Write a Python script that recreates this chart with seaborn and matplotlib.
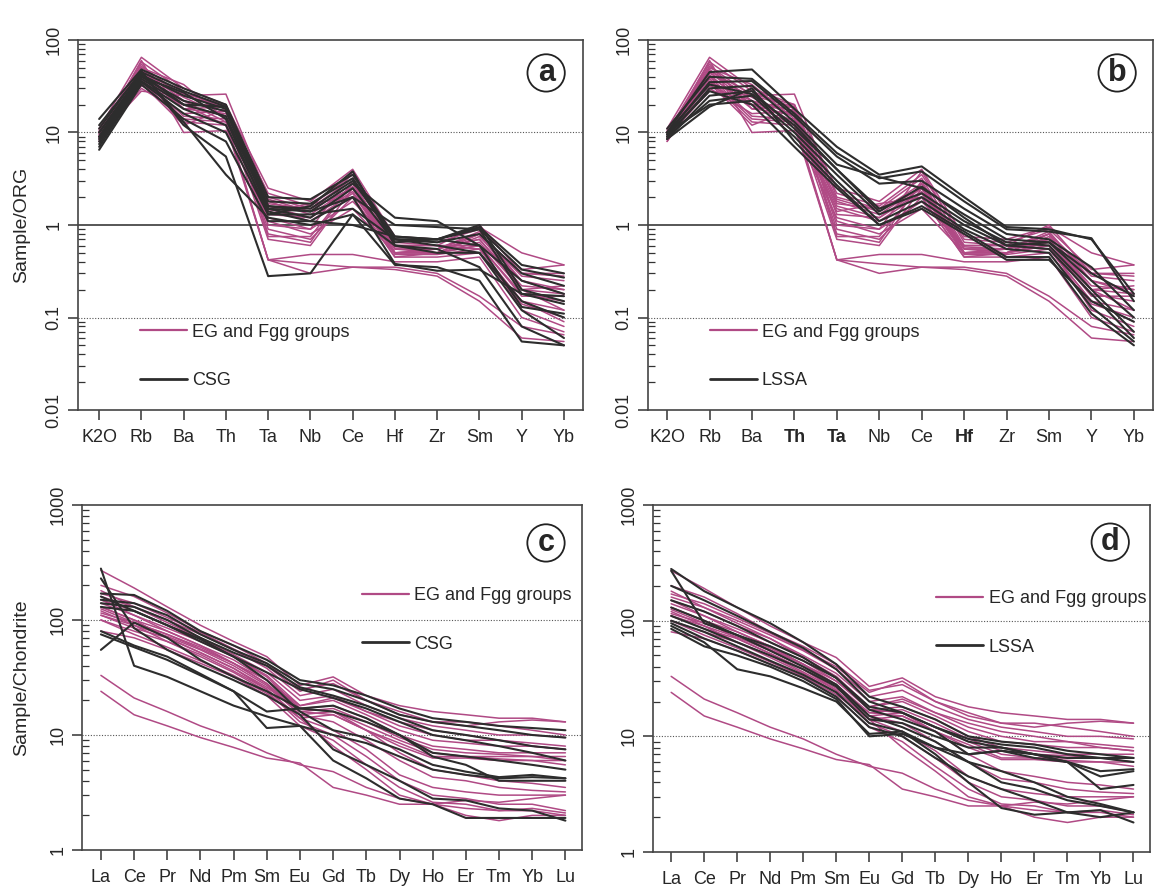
import numpy as np
import pandas as pd
import matplotlib
matplotlib.use("Agg")
import matplotlib.pyplot as plt
from matplotlib.lines import Line2D
import seaborn as sns

# ---------------- data ----------------
spider_elems = ["K2O", "Rb", "Ba", "Th", "Ta", "Nb", "Ce", "Hf", "Zr", "Sm", "Y", "Yb"]
ree_elems = ["La", "Ce", "Pr", "Nd", "Pm", "Sm", "Eu", "Gd", "Tb", "Dy", "Ho", "Er", "Tm", "Yb", "Lu"]

# EG and Fgg groups, normalised to ORG
eg_org = [
    [11, 65, 30, 20, 2.5, 1.8, 4.0, 0.75, 0.70, 0.95, 0.50, 0.37],
    [10, 58, 28, 18, 2.2, 1.6, 3.5, 0.70, 0.65, 0.90, 0.33, 0.37],
    [9.5, 52, 25, 26, 2.0, 1.5, 3.2, 0.60, 0.60, 1.00, 0.30, 0.30],
    [10.5, 48, 22, 17, 1.9, 1.4, 2.8, 0.58, 0.55, 0.80, 0.28, 0.25],
    [9, 45, 20, 15, 1.8, 1.3, 2.6, 0.55, 0.55, 0.70, 0.22, 0.20],
    [8.5, 42, 18, 16, 1.7, 1.5, 2.5, 0.50, 0.50, 0.65, 0.20, 0.18],
    [10, 40, 15, 14, 1.6, 1.2, 2.3, 0.50, 0.50, 0.60, 0.18, 0.15],
    [9, 38, 14, 13, 1.5, 1.1, 2.2, 0.48, 0.48, 0.55, 0.15, 0.12],
    [8, 36, 13, 12, 1.4, 1.7, 2.0, 0.45, 0.45, 0.50, 0.14, 0.10],
    [11, 34, 12, 18, 1.3, 1.2, 2.5, 0.55, 0.50, 0.75, 0.25, 0.20],
    [9, 60, 10, 10.5, 1.2, 0.9, 1.8, 0.60, 0.60, 0.60, 0.12, 0.08],
    [10, 32, 20, 20, 1.1, 0.8, 1.5, 0.50, 0.55, 0.70, 0.20, 0.22],
    [8.5, 30, 16, 17, 0.9, 0.7, 2.0, 0.45, 0.50, 0.60, 0.17, 0.17],
    [9.5, 55, 18, 19, 0.8, 0.65, 3.0, 0.50, 0.50, 0.80, 0.30, 0.28],
    [10, 44, 24, 15, 0.7, 0.6, 2.5, 0.50, 0.55, 0.85, 0.25, 0.18],
    [9, 28, 25, 19, 0.75, 0.75, 2.8, 0.55, 0.55, 0.80, 0.20, 0.12],
    [8, 50, 33, 14, 0.42, 0.48, 0.48, 0.40, 0.40, 0.45, 0.10, 0.07],
    [10, 40, 20, 12, 0.42, 0.38, 0.35, 0.35, 0.30, 0.17, 0.08, 0.065],
    [9, 35, 22, 13, 0.42, 0.30, 0.35, 0.33, 0.28, 0.15, 0.06, 0.055],
    [10, 46, 26, 20, 1.0, 0.9, 3.8, 0.65, 0.60, 0.55, 0.15, 0.09],
]

# CSG, normalised to ORG
csg_org = [
    [14, 48, 30, 20, 2.0, 1.9, 3.5, 0.75, 0.70, 0.95, 0.37, 0.30],
    [12, 45, 28, 19, 1.8, 1.7, 3.2, 0.70, 0.70, 0.90, 0.33, 0.27],
    [10, 42, 25, 18, 1.6, 1.5, 3.0, 0.70, 0.65, 0.80, 0.30, 0.22],
    [9, 40, 22, 17, 1.5, 1.4, 2.8, 1.20, 1.10, 0.60, 0.25, 0.18],
    [8, 38, 20, 15, 1.5, 1.2, 2.5, 0.65, 0.70, 1.00, 0.20, 0.15],
    [7.5, 36, 18, 12, 1.4, 1.1, 2.0, 1.00, 0.95, 0.90, 0.18, 0.17],
    [7, 35, 16, 10, 1.3, 1.3, 1.5, 0.70, 0.60, 0.50, 0.15, 0.10],
    [6.5, 33, 14, 8, 1.1, 1.1, 1.0, 0.75, 0.70, 0.60, 0.13, 0.11],
    [9, 44, 13, 3.5, 1.2, 1.0, 1.3, 0.60, 0.55, 0.35, 0.08, 0.05],
    [11, 46, 12, 5.5, 0.28, 0.30, 1.3, 0.37, 0.35, 0.25, 0.055, 0.05],
    [8.5, 40, 27, 14, 1.3, 1.6, 3.8, 0.60, 0.50, 0.50, 0.12, 0.06],
    [10, 43, 20, 19, 1.6, 1.4, 2.0, 0.38, 0.32, 0.33, 0.18, 0.14],
]

# LSSA, normalised to ORG
lssa_org = [
    [10, 45, 48, 18, 7.0, 3.5, 4.3, 2.0, 0.95, 0.90, 0.70, 0.18],
    [11, 40, 38, 16, 6.0, 3.2, 3.8, 1.8, 0.90, 0.85, 0.72, 0.15],
    [9.5, 35, 36, 15, 5.5, 2.8, 3.0, 1.5, 0.80, 0.70, 0.35, 0.12],
    [9, 30, 32, 13, 4.5, 3.3, 2.5, 1.3, 0.70, 0.65, 0.25, 0.10],
    [8.5, 25, 28, 11, 4.0, 1.5, 2.2, 1.1, 0.65, 0.60, 0.20, 0.07],
    [9, 22, 25, 10, 3.5, 1.3, 2.0, 1.0, 0.60, 0.55, 0.18, 0.06],
    [10, 20, 22, 9, 3.0, 1.1, 1.8, 0.9, 0.55, 0.50, 0.13, 0.055],
    [8.5, 19, 30, 8, 2.7, 1.0, 1.6, 0.85, 0.45, 0.45, 0.11, 0.05],
    [9.5, 28, 20, 7, 2.5, 1.0, 1.5, 0.8, 0.42, 0.42, 0.15, 0.09],
    [10, 33, 26, 12, 4.0, 1.4, 2.6, 1.2, 0.60, 0.65, 0.30, 0.17],
]

# EG and Fgg groups, chondrite-normalised REE
eg_ree = [
    [270, 190, 130, 90, 65, 48, 27, 32, 22, 18, 16, 15, 14, 14, 13],
    [200, 160, 115, 80, 60, 42, 25, 28, 20, 16, 13, 12, 13, 13.5, 13],
    [160, 130, 100, 75, 55, 38, 22, 25, 18, 14, 12, 11, 10, 10, 9.5],
    [150, 120, 90, 70, 50, 35, 20, 22, 16, 12, 10, 9, 9, 8.5, 8],
    [140, 110, 85, 65, 48, 33, 18, 20, 15, 11, 9, 8.5, 8, 8, 7.5],
    [130, 100, 80, 60, 45, 30, 17, 18, 14, 10, 8, 7.5, 7, 7, 7],
    [125, 95, 75, 58, 42, 28, 16, 17, 13, 9.5, 7.5, 7, 6.8, 6.5, 6.5],
    [120, 90, 72, 55, 40, 27, 15, 16, 12, 9, 7, 6.5, 6.5, 6.5, 6],
    [110, 85, 70, 52, 38, 26, 16, 15, 11, 8.5, 6.5, 6.5, 6.2, 6, 6],
    [100, 80, 65, 50, 36, 25, 14, 15, 11, 8, 6.3, 6.3, 6, 6, 5.5],
    [180, 130, 95, 70, 48, 32, 17, 16, 11, 7, 5, 4.5, 4.0, 3.8, 3.5],
    [150, 110, 80, 60, 42, 28, 15, 13, 9, 6, 4.3, 4, 3.5, 3.3, 3.2],
    [130, 100, 70, 52, 38, 25, 14, 11, 7.5, 4.5, 3.5, 3.2, 3, 3, 3.0],
    [110, 90, 65, 48, 35, 24, 13, 10, 6.5, 4, 3, 2.8, 2.5, 2.5, 2.2],
    [80, 70, 55, 42, 32, 22, 12, 9, 5.5, 3.5, 2.6, 2.5, 2.2, 2.3, 2.1],
    [100, 75, 58, 44, 33, 23, 14, 8, 5, 3, 2.5, 2, 1.8, 2.0, 2.0],
    [33, 21, 16, 12, 9.5, 7, 5.5, 4.8, 3.5, 2.8, 2.5, 2.7, 2.6, 2.8, 3.0],
    [24, 15, 12, 9.5, 7.8, 6.3, 5.7, 3.5, 3.0, 2.5, 2.5, 2.3, 2.2, 2.2, 2.0],
    [170, 140, 105, 78, 56, 40, 24, 30, 20, 15, 13, 13, 12, 11, 10],
    [115, 95, 75, 56, 42, 30, 18, 21, 16, 13, 11, 10, 9, 8, 7.5],
]

# CSG, chondrite-normalised REE
csg_ree = [
    [170, 165, 120, 80, 60, 45, 30, 27, 22, 17, 14, 13, 12, 11.5, 11],
    [150, 140, 110, 75, 55, 42, 28, 25, 20, 15, 13, 12, 11, 10, 9.5],
    [140, 130, 100, 70, 52, 40, 26, 22, 18, 14, 11, 10, 9, 8, 7.5],
    [130, 120, 90, 65, 48, 35, 25, 21, 17, 13, 10, 9, 8, 7, 6],
    [280, 40, 32, 24, 18, 14.5, 12, 10, 8.5, 6.5, 5, 4.5, 4.2, 4.3, 4.2],
    [55, 95, 70, 45, 32, 24, 17, 16, 13, 10, 7, 6.5, 6, 5.5, 5],
    [80, 60, 48, 34, 24, 16, 17, 18, 14, 10, 6.5, 5.5, 4.0, 4.0, 4.0],
    [230, 85, 55, 40, 30, 22, 15, 7.5, 5.5, 4.0, 2.8, 2.7, 2.3, 2.2, 1.8],
    [75, 58, 45, 33, 24, 11.5, 12, 6, 4.2, 2.8, 2.5, 1.9, 1.9, 1.9, 1.9],
    [160, 120, 90, 68, 48, 30, 16, 11, 9.5, 7.5, 5.5, 4.8, 4.3, 4.5, 4.2],
]

# LSSA, chondrite-normalised REE
lssa_ree = [
    [280, 180, 130, 95, 65, 42, 22, 18, 14, 10, 9, 8.5, 7.5, 7, 6.5],
    [270, 95, 75, 60, 45, 32, 18, 16, 12, 9.5, 8.5, 8, 7, 6.5, 6],
    [200, 150, 110, 80, 58, 38, 20, 16, 12, 9, 8, 7, 6.5, 6.5, 6.5],
    [150, 120, 90, 65, 48, 32, 17, 14, 11, 7, 7.5, 7, 6, 5, 5.2],
    [130, 100, 75, 55, 40, 28, 15, 12, 9, 6, 4, 3.5, 2.8, 2.5, 2.2],
    [100, 80, 60, 45, 34, 24, 13, 11, 7, 4, 2.4, 2.1, 2.2, 2.3, 1.8],
    [95, 70, 55, 42, 32, 22, 12, 10, 6.5, 4.5, 3.5, 2.8, 2.2, 2.0, 2.2],
    [90, 65, 38, 33, 26, 20, 10.5, 11, 8, 7, 7.5, 6.5, 6, 3.5, 3.8],
    [85, 60, 50, 40, 30, 21, 10, 10.5, 8, 6, 5, 4, 3, 2.6, 2.2],
    [110, 85, 65, 50, 38, 27, 14, 13, 10, 8, 8, 7, 6, 4.5, 5],
]

PINK = "#b04a85"
DARK = "#2d2d2d"


def long_df(rows, elems, group):
    recs = []
    for i, r in enumerate(rows):
        for j, v in enumerate(r):
            recs.append({"sample": f"{group}{i}", "pos": j, "elem": elems[j],
                         "value": v, "group": group})
    return pd.DataFrame(recs)


sns.set_theme(style="ticks")
plt.rcParams["font.family"] = ["Liberation Sans", "DejaVu Sans"]

fig = plt.figure(figsize=(11.6, 8.88), dpi=100)
W, H = 1160, 888


def add_ax(left, right, top, bottom):
    return fig.add_axes([left / W, 1 - bottom / H, (right - left) / W, (bottom - top) / H])


ax_a = add_ax(78, 583, 40, 410)
ax_b = add_ax(648, 1153, 40, 410)
ax_c = add_ax(82, 582, 505, 850)
ax_d = add_ax(653, 1150, 505, 852)

panels = [
    (ax_a, eg_org, csg_org, "CSG", spider_elems, "a", (-0.5, 11.45), (0.01, 100)),
    (ax_b, eg_org, lssa_org, "LSSA", spider_elems, "b", (-0.45, 11.45), (0.01, 100)),
    (ax_c, eg_ree, csg_ree, "CSG", ree_elems, "c", (-0.57, 14.5), (1, 1000)),
    (ax_d, eg_ree, lssa_ree, "LSSA", ree_elems, "d", (-0.55, 14.5), (1, 1000)),
]

legend_pos = {"a": (0.122, 0.233), "b": (0.122, 0.233), "c": (0.56, 0.762), "d": (0.57, 0.755)}
circle_pos = {"a": (0.927, 0.911), "b": (0.929, 0.911), "c": (0.928, 0.89), "d": (0.92, 0.893)}

for ax, pink_rows, dark_rows, dark_name, elems, letter, xlim, ylim in panels:
    df = pd.concat([long_df(pink_rows, elems, "EG and Fgg groups"),
                    long_df(dark_rows, elems, dark_name)], ignore_index=True)
    ax.set_yscale("log")
    # reference lines
    if ylim[1] == 100:
        ax.axhline(1, color="#3a3a3a", lw=1.2, zorder=1)
        for yv in (10, 0.1):
            ax.axhline(yv, color="#555555", lw=0.8, ls=(0, (1, 1.5)), zorder=1)
    else:
        for yv in (100, 10):
            ax.axhline(yv, color="#555555", lw=0.8, ls=(0, (1, 1.5)), zorder=1)
    sns.lineplot(data=df[df.group == "EG and Fgg groups"], x="pos", y="value",
                 units="sample", estimator=None, color=PINK, lw=1.1, ax=ax,
                 legend=False, zorder=2)
    sns.lineplot(data=df[df.group == dark_name], x="pos", y="value",
                 units="sample", estimator=None, color=DARK, lw=1.5, ax=ax,
                 legend=False, zorder=3)
    ax.set_xlim(*xlim)
    ax.set_ylim(*ylim)
    ax.set_xticks(range(len(elems)))
    ax.set_xticklabels(elems, fontsize=13)
    ax.set_xlabel("")
    ax.set_ylabel("")
    # y ticks
    majors = [10.0 ** k for k in range(int(np.log10(ylim[0])), int(np.log10(ylim[1])) + 1)]
    ax.set_yticks(majors)
    ax.set_yticklabels([f"{m:g}" for m in majors], fontsize=13, rotation=90, va="center")
    ax.yaxis.set_minor_locator(matplotlib.ticker.LogLocator(base=10, subs=np.arange(2, 10)))
    ax.yaxis.set_minor_formatter(matplotlib.ticker.NullFormatter())
    ax.tick_params(axis="both", which="major", direction="out", length=7, width=1.1,
                   color="#333333", pad=4)
    ax.tick_params(axis="x", which="major", pad=7)
    ax.tick_params(axis="y", which="minor", direction="in", length=5, width=0.9,
                   color="#333333")
    for sp in ax.spines.values():
        sp.set_visible(True)
        sp.set_linewidth(1.2)
        sp.set_color("#444444")
    # legend
    handles = [Line2D([], [], color=PINK, lw=1.6), Line2D([], [], color=DARK, lw=2.0)]
    ax.legend(handles, ["EG and Fgg groups", dark_name], loc="upper left",
              bbox_to_anchor=legend_pos[letter], frameon=False, fontsize=13,
              handlelength=2.6, handletextpad=0.3, labelspacing=1.75,
              borderpad=0, borderaxespad=0)
    # circled panel letter
    cx, cy = circle_pos[letter]
    ax.text(cx, cy, letter, transform=ax.transAxes, fontsize=22, fontweight="bold",
            ha="center", va="center",
            bbox=dict(boxstyle="circle,pad=0.12", fc="white", ec="#222222", lw=1.3))

# bold labels in panel b
for lab in ax_b.get_xticklabels():
    if lab.get_text() in ("Th", "Ta", "Hf"):
        lab.set_fontweight("bold")

ax_a.set_ylabel("Sample/ORG", fontsize=14)
ax_c.set_ylabel("Sample/Chondrite", fontsize=14)
ax_a.yaxis.set_label_coords(-0.095, 0.5)
ax_c.yaxis.set_label_coords(-0.104, 0.5)

fig.savefig("out.png", dpi=100)
